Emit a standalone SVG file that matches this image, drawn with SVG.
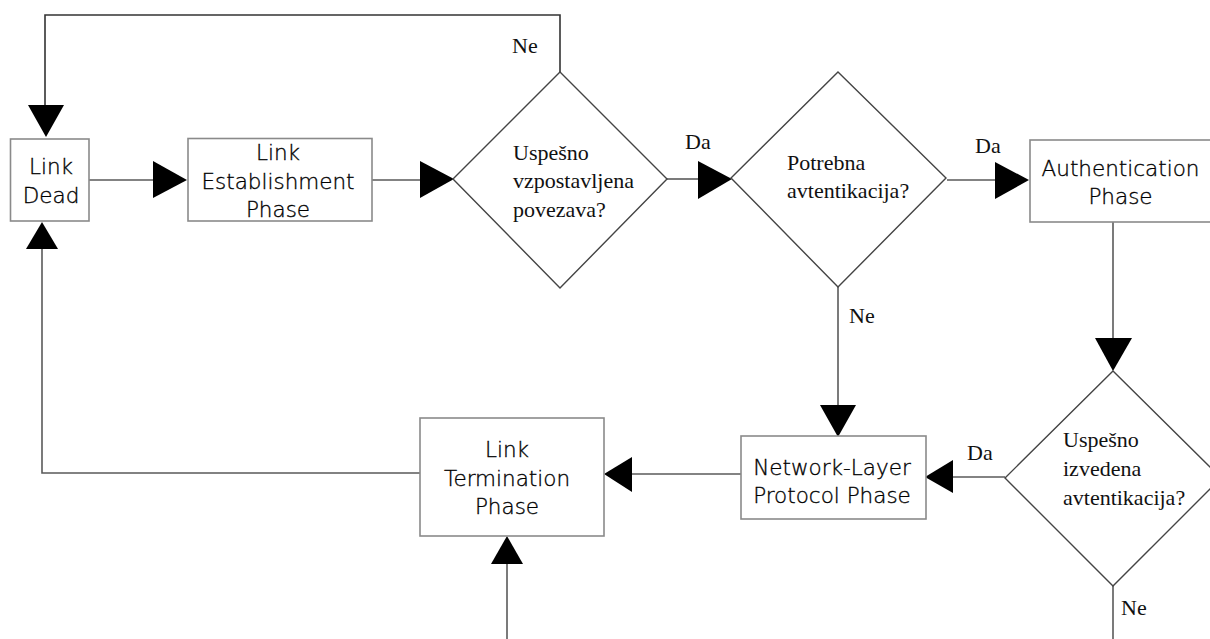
<svg xmlns="http://www.w3.org/2000/svg" width="1210" height="639" viewBox="0 0 1210 639">
  <style>
    .box { fill: #ffffff; stroke: #8a8a8a; stroke-width: 1.6; }
    .dia { fill: #ffffff; stroke: #444444; stroke-width: 1.4; }
    .lbl { font-family: "DejaVu Sans", "Liberation Sans", sans-serif; font-size: 21.5px; font-weight: 300; fill: #000000; stroke: #000000; stroke-width: 0.35; text-anchor: middle; }
    .q { font-family: "Liberation Serif", "DejaVu Serif", serif; font-size: 22px; fill: #111111; }
    .edge { fill: none; stroke: #5a5a5a; stroke-width: 1.6; }
    .head { fill: #000000; stroke: none; }
  </style>

  <!-- connectors -->
  <g id="connectors">
    <!-- Link Dead -> Link Establishment -->
    <line class="edge" x1="89" y1="180" x2="154" y2="180"/>
    <polygon class="head" points="153,161 187,180 153,198"/>
    <!-- Link Establishment -> first decision -->
    <line class="edge" x1="372" y1="180" x2="421" y2="180"/>
    <polygon class="head" points="420,161 454,179 420,198"/>
    <!-- first decision, Da -> second decision -->
    <line class="edge" x1="667" y1="179" x2="699" y2="179"/>
    <polygon class="head" points="698,161 732,179 698,199"/>
    <!-- second decision, Da -> Authentication -->
    <line class="edge" x1="947" y1="180" x2="996" y2="180"/>
    <polygon class="head" points="995,162 1029,180 995,199"/>
    <!-- Authentication -> third decision -->
    <line class="edge" x1="1113" y1="222" x2="1113" y2="339"/>
    <polygon class="head" points="1095,338 1132,338 1113,371"/>
    <!-- third decision, Ne -> down -->
    <line class="edge" x1="1113" y1="586" x2="1113" y2="639"/>
    <!-- third decision, Da -> Network-Layer -->
    <line class="edge" x1="1005" y1="477" x2="952" y2="477"/>
    <polygon class="head" points="953,460 925,477 953,493"/>
    <!-- second decision, Ne -> Network-Layer -->
    <line class="edge" x1="838" y1="287" x2="838" y2="406"/>
    <polygon class="head" points="820,405 856,405 838,437"/>
    <!-- Network-Layer -> Link Termination -->
    <line class="edge" x1="741" y1="474" x2="631" y2="474"/>
    <polygon class="head" points="632,457 604,474 632,492"/>
    <!-- from below -> Link Termination -->
    <line class="edge" x1="507" y1="639" x2="507" y2="563"/>
    <polygon class="head" points="491,564 507,536 523,564"/>
    <!-- Link Termination -> Link Dead -->
    <polyline class="edge" points="420,473 42,473 42,248"/>
    <polygon class="head" points="26,249 42,222 58,249"/>
    <!-- first decision, Ne -> Link Dead -->
    <polyline class="edge" style="stroke:#333333" points="560,72 560,15 45,15 45,106"/>
    <polygon class="head" points="28,105 64,105 46,137"/>
  </g>

  <!-- edge labels -->
  <g id="edge-labels">
    <text class="q" x="512" y="53">Ne</text>
    <text class="q" x="685" y="149">Da</text>
    <text class="q" x="975" y="153">Da</text>
    <text class="q" x="849" y="323">Ne</text>
    <text class="q" x="967" y="460">Da</text>
    <text class="q" x="1121" y="615">Ne</text>
  </g>

  <g id="link-dead">
    <rect class="box" x="10.5" y="139" width="78.5" height="82"/>
    <text class="lbl" x="51" y="174">Link</text>
    <text class="lbl" x="51" y="203">Dead</text>
  </g>

  <g id="link-establishment">
    <rect class="box" x="188" y="138.5" width="184" height="82.5"/>
    <text class="lbl" x="278" y="160">Link</text>
    <text class="lbl" x="278" y="189">Establishment</text>
    <text class="lbl" x="278" y="217">Phase</text>
  </g>

  <g id="decision-link-up">
    <polygon class="dia" points="560,72 667,179 560,288 453,179"/>
    <text class="q" x="513" y="160">Uspešno</text>
    <text class="q" x="513" y="188">vzpostavljena</text>
    <text class="q" x="513" y="217">povezava?</text>
  </g>

  <g id="decision-auth-needed">
    <polygon class="dia" points="838,72 946,178 838,287 731,178"/>
    <text class="q" x="787" y="170">Potrebna</text>
    <text class="q" x="787" y="198">avtentikacija?</text>
  </g>

  <g id="authentication">
    <rect class="box" x="1030" y="140" width="182" height="82"/>
    <text class="lbl" x="1120.5" y="176">Authentication</text>
    <text class="lbl" x="1120.5" y="204">Phase</text>
  </g>

  <g id="decision-auth-ok">
    <polygon class="dia" points="1113,371 1221,478 1113,586 1005,478"/>
    <text class="q" x="1063" y="447">Uspešno</text>
    <text class="q" x="1063" y="476">izvedena</text>
    <text class="q" x="1063" y="505">avtentikacija?</text>
  </g>

  <g id="network-layer">
    <rect class="box" x="741" y="436" width="185" height="83"/>
    <text class="lbl" x="832" y="475">Network-Layer</text>
    <text class="lbl" x="832" y="503">Protocol Phase</text>
  </g>

  <g id="link-termination">
    <rect class="box" x="420" y="418" width="184" height="118"/>
    <text class="lbl" x="507" y="457">Link</text>
    <text class="lbl" x="507" y="486">Termination</text>
    <text class="lbl" x="507" y="514">Phase</text>
  </g>
</svg>
